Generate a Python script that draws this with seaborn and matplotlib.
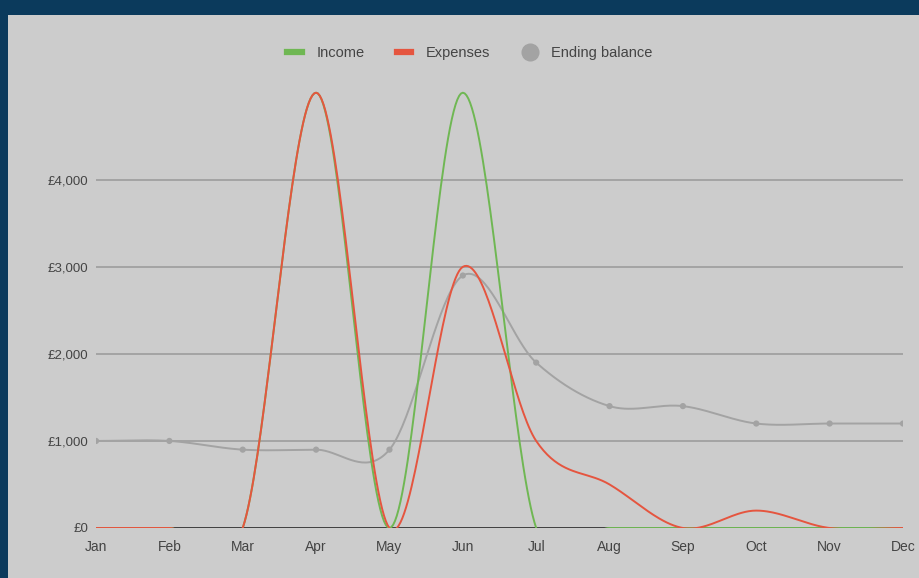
import numpy as np
import pandas as pd
import matplotlib
matplotlib.use('Agg')
import matplotlib.pyplot as plt
from matplotlib.lines import Line2D
from matplotlib.patches import Rectangle
import seaborn as sns

months = ['Jan', 'Feb', 'Mar', 'Apr', 'May', 'Jun', 'Jul', 'Aug', 'Sep', 'Oct', 'Nov', 'Dec']
income = [0, 0, 0, 5000, 0, 5000, 0, 0, 0, 0, 0, 0]
expenses = [0, 0, 0, 5000, 0, 3000, 1000, 500, 0, 200, 0, 0]
ending_balance = [1000, 1000, 900, 900, 900, 2900, 1900, 1400, 1400, 1200, 1200, 1200]
y_ticks = [0, 1000, 2000, 3000, 4000]

colors = {'Income': '#6fb753', 'Expenses': '#e5553f', 'Ending balance': '#a3a3a3'}


def smooth(vals, n=40):
    # cubic hermite with catmull-rom tangents (like the "function" curve type)
    p = np.asarray(vals, dtype=float)
    m = np.zeros_like(p)
    m[1:-1] = (p[2:] - p[:-2]) / 2
    m[0] = p[1] - p[0]
    m[-1] = p[-1] - p[-2]
    xs, ys = [], []
    for i in range(len(p) - 1):
        t = np.linspace(0, 1, n, endpoint=False)
        h00 = 2 * t**3 - 3 * t**2 + 1
        h10 = t**3 - 2 * t**2 + t
        h01 = -2 * t**3 + 3 * t**2
        h11 = t**3 - t**2
        xs.append(i + t)
        ys.append(h00 * p[i] + h10 * m[i] + h01 * p[i + 1] + h11 * m[i + 1])
    xs.append([len(p) - 1])
    ys.append([p[-1]])
    return np.concatenate(xs), np.concatenate(ys)


frames = []
for name, vals in [('Ending balance', ending_balance), ('Income', income), ('Expenses', expenses)]:
    sx, sy = smooth(vals)
    frames.append(pd.DataFrame({'x': sx, 'y': sy, 'series': name}))
curves = pd.concat(frames, ignore_index=True)
points = pd.DataFrame({'x': np.arange(len(months)), 'y': ending_balance})

plt.rcParams['font.family'] = ['Liberation Sans', 'DejaVu Sans']

W, H = 919, 578
fig = plt.figure(figsize=(W / 100, H / 100), dpi=100, facecolor='#0b3a5c')
fig.patches.append(Rectangle((8 / W, 0), 1, (H - 15) / H, transform=fig.transFigure,
                             facecolor='#cccccc', edgecolor='none', zorder=-1))

ax = fig.add_axes([96 / W, 50 / H, (903 - 96) / W, (528 - 84) / H])
ax.set_zorder(2)
ax.patch.set_alpha(0)

for yv in y_ticks[1:]:
    ax.axhline(yv, color='#999999', lw=1.1, zorder=1)
ax.axhline(0, color='#333333', lw=2, zorder=1)

sns.lineplot(data=curves, x='x', y='y', hue='series', palette=colors,
             hue_order=['Ending balance', 'Income', 'Expenses'],
             sort=False, estimator=None, lw=1.4, legend=False, ax=ax, zorder=3)
sns.scatterplot(data=points, x='x', y='y', color=colors['Ending balance'], s=20,
                edgecolor='none', ax=ax, zorder=3)

ax.set_xlim(0, len(months) - 1)
ax.set_ylim(0, 5100)
ax.set_xticks(range(len(months)))
ax.set_xticklabels(months)
ax.set_yticks(y_ticks)
ax.set_yticklabels(['£0' if v == 0 else '£{:,}'.format(v) for v in y_ticks])
ax.tick_params(axis='x', length=0, pad=8.5, labelsize=10, labelcolor='#444444')
ax.tick_params(axis='y', length=0, pad=5.5, labelsize=9.5, labelcolor='#444444')
ax.set_xlabel('')
ax.set_ylabel('')
for s in ax.spines.values():
    s.set_visible(False)

handles = [
    Line2D([], [], color=colors['Income'], lw=4.5),
    Line2D([], [], color=colors['Expenses'], lw=4.5),
    Line2D([], [], color=colors['Ending balance'], lw=0, marker='o', markersize=12),
]
leg = fig.legend(handles, ['Income', 'Expenses', 'Ending balance'], loc='center',
                 bbox_to_anchor=(470 / W, 1 - 53 / H), ncol=3, frameon=False,
                 fontsize=10.5, labelcolor='#444444', handlelength=1.0, handletextpad=1.0,
                 columnspacing=2.2)
leg.set_zorder(3)

fig.savefig('out.png', dpi=100, facecolor=fig.get_facecolor())
